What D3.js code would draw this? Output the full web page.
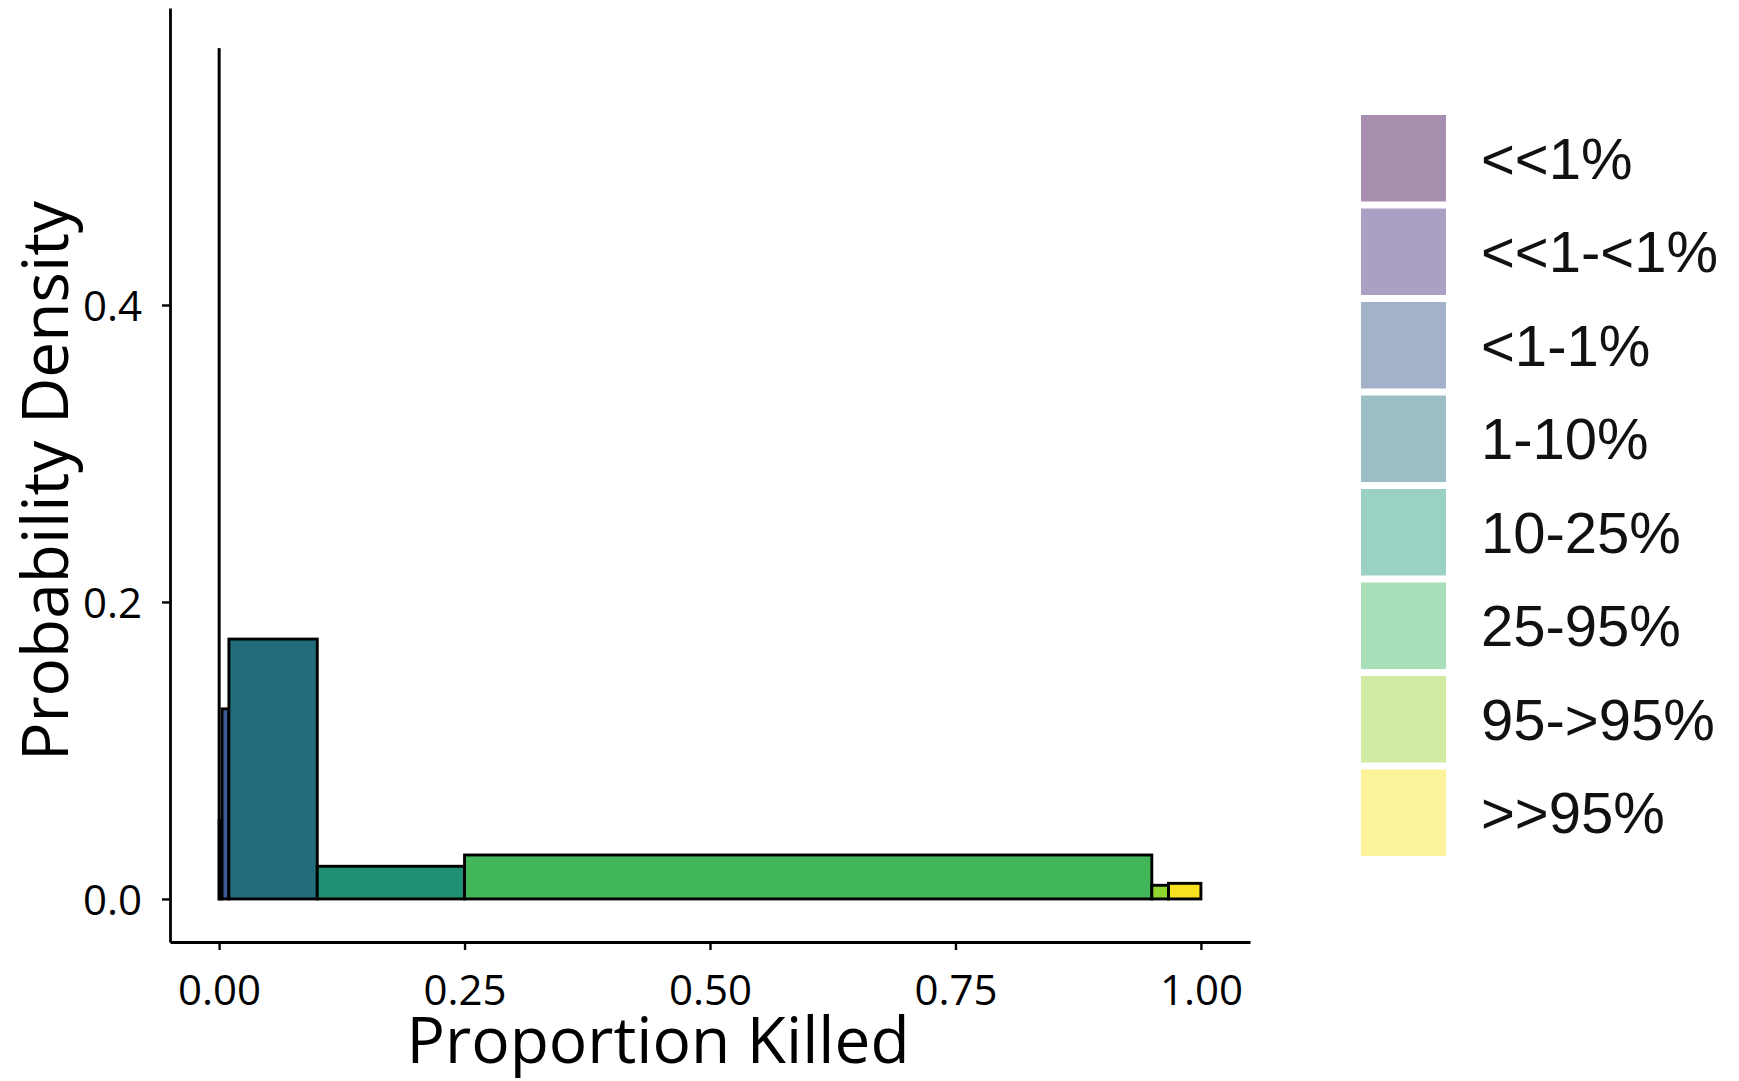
<!DOCTYPE html>
<html>
<head>
<meta charset="utf-8">
<script src="https://cdn.jsdelivr.net/npm/d3@7"></script>
<style>
  html, body { margin: 0; padding: 0; background: #fff; }
  svg { display: block; }
</style>
</head>
<body>
<svg id="chart" width="1739" height="1081"></svg>
<script>
// Histogram of proportion killed, one bar per outcome class
const categories = ["<<1%", "<<1-<1%", "<1-1%", "1-10%", "10-25%", "25-95%", "95->95%", ">>95%"];
const binStart = [0, 0.0001, 0.003, 0.01, 0.1, 0.25, 0.95, 0.967];
const binEnd   = [0.0001, 0.003, 0.01, 0.1, 0.25, 0.95, 0.967, 1.0];
const density  = [0.572, 0.053, 0.128, 0.175, 0.022, 0.0296, 0.0092, 0.0105];
const barColors    = ["#440154", "#46337E", "#3B5B96", "#226C7B", "#218F73", "#41B75A", "#8FD631", "#F8E11E"];
const legendColors = ["#A98FAF", "#A9A0C4", "#A3B1C9", "#9CBFC6", "#9BD0C4", "#A9E0BA", "#D1EBA2", "#FDF39A"];
const xTicks = [0, 0.25, 0.5, 0.75, 1];
const yTicks = [0, 0.2, 0.4];

const svg = d3.select("#chart");

const x = d3.scaleLinear().domain([-0.05, 1.05]).range([170, 1250]);
const y = d3.scaleLinear().domain([-0.029, 0.6]).range([942, 8]);

const bars = categories.map((c, i) => ({ cat: c, x0: binStart[i], x1: binEnd[i], v: density[i], fill: barColors[i] }));

// bars
svg.append("g").selectAll("rect")
  .data(bars)
  .join("rect")
  .attr("x", d => x(d.x0))
  .attr("width", d => Math.max(0, x(d.x1) - x(d.x0)))
  .attr("y", d => y(d.v))
  .attr("height", d => y(0) - y(d.v))
  .attr("fill", d => d.fill)
  .attr("stroke", "#000")
  .attr("stroke-width", 2.9);

// axes
const tickFont = "'Open Sans', sans-serif";
const xAxis = svg.append("g")
  .attr("transform", `translate(0,${y.range()[0]})`)
  .call(d3.axisBottom(x).tickValues(xTicks).tickFormat(d3.format(".2f")).tickSize(8).tickPadding(19).tickSizeOuter(0));
const yAxis = svg.append("g")
  .attr("transform", `translate(${x.range()[0]},0)`)
  .call(d3.axisLeft(y).tickValues(yTicks).tickFormat(d3.format(".1f")).tickSize(8).tickPadding(20).tickSizeOuter(0));

[xAxis, yAxis].forEach(g => {
  g.select(".domain").attr("stroke", "#000").attr("stroke-width", 2.8);
  g.selectAll(".tick line").attr("stroke", "#000").attr("stroke-width", 2.4);
  g.selectAll(".tick text").attr("fill", "#000").style("font-family", tickFont).style("font-size", "42px");
});
xAxis.selectAll(".tick text").attr("dy", "0.86em");
yAxis.selectAll(".tick text").attr("dy", "0.36em");

// axis titles
svg.append("text")
  .attr("x", 658)
  .attr("y", 1063)
  .attr("text-anchor", "middle")
  .style("font-family", tickFont)
  .style("font-size", "64px")
  .attr("fill", "#000")
  .text("Proportion Killed");

svg.append("text")
  .attr("transform", "translate(68,481) rotate(-90)")
  .attr("text-anchor", "middle")
  .style("font-family", tickFont)
  .style("font-size", "64px")
  .attr("fill", "#000")
  .text("Probability Density");

// legend
const legend = svg.append("g").attr("transform", "translate(1361,115)");
const keyH = 86.5, step = 93.5;
const items = legend.selectAll("g")
  .data(categories)
  .join("g")
  .attr("transform", (d, i) => `translate(0,${i * step})`);
items.append("rect")
  .attr("width", 85)
  .attr("height", keyH)
  .attr("fill", (d, i) => legendColors[i]);
items.append("text")
  .attr("x", 120)
  .attr("y", keyH / 2 + 20.5)
  .style("font-family", "'Liberation Sans', Arial, sans-serif")
  .style("font-size", "58px")
  .attr("fill", "#111")
  .text(d => d);
</script>
</body>
</html>
